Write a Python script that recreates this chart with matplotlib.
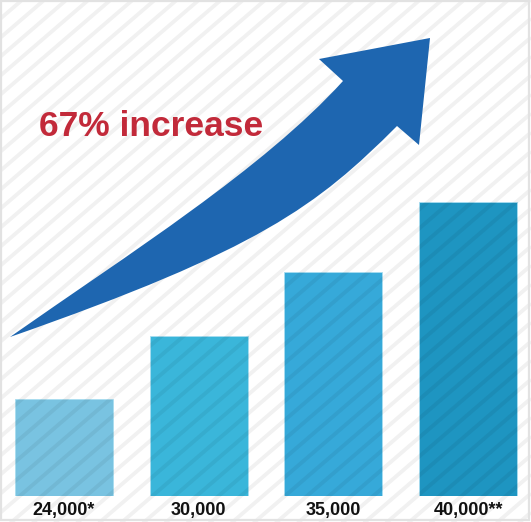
import matplotlib
matplotlib.use("Agg")
import matplotlib.pyplot as plt
from matplotlib.path import Path
from matplotlib.patches import PathPatch, Rectangle

# bar data (labels as printed, heights in pixels)
labels = ["24,000*", "30,000", "35,000", "40,000**"]
bar_heights = [97, 160, 224, 294]
bar_colors = ["#79C3E1", "#3AB6DA", "#36A9D9", "#1E95C1"]
headline = "67% increase"

W, H = 531, 522
base = 496  # bar baseline, px from top

fig = plt.figure(figsize=(W / 100, H / 100), dpi=100)
fig.patch.set_facecolor("white")

# bars axes: pixel scale, baseline at y=0
ax_bars = fig.add_axes([0, (H - base) / H, 1, base / H])
ax_bars.set_xlim(0, W)
ax_bars.set_ylim(0, base)
ax_bars.axis("off")
xpos = [64, 198.5, 333, 468]
ax_bars.bar(xpos, bar_heights, width=98, color=bar_colors,
            edgecolor="#A9DDF0", linewidth=0.6, zorder=1)

# overlay axes for stripes, arrow and text (y down, pixels)
ax = fig.add_axes([0, 0, 1, 1], zorder=2)
ax.set_xlim(0, W)
ax.set_ylim(H, 0)
ax.axis("off")
ax.patch.set_alpha(0)

slope = 0.86
for c in range(0, int(W * slope) + H + 40, 19):
    ax.plot([0, W], [c, c - W * slope], color="black", alpha=0.055, lw=2.8,
            solid_capstyle="butt", zorder=1)

# curved arrow
verts = [(10, 337), (130, 253), (263, 169), (343, 81),
         (319, 59), (430, 38), (419, 145), (397, 126),
         (317, 206), (260, 249.5), (10, 337), (10, 337)]
codes = [Path.MOVETO, Path.CURVE4, Path.CURVE4, Path.CURVE4,
         Path.LINETO, Path.LINETO, Path.LINETO, Path.LINETO,
         Path.CURVE4, Path.CURVE4, Path.CURVE4, Path.CLOSEPOLY]
ax.add_patch(PathPatch(Path(verts, codes), facecolor="#1E66B0",
                       edgecolor="none", zorder=3))

ax.text(39, 136, headline, color="#C22A3A", fontsize=25.5, fontweight="bold",
        family="Liberation Sans", ha="left", va="baseline", zorder=4)

for x, lab in zip(xpos, labels):
    ax.text(x, 515, lab, fontsize=13, fontweight="bold", family="Liberation Sans",
            ha="center", va="baseline", color="#111111", zorder=4)

ax.add_patch(Rectangle((1, 1), W - 3, H - 3, fill=False, edgecolor="#E2E2E2",
                       lw=1.6, zorder=5))

fig.savefig("out.png", dpi=100)
